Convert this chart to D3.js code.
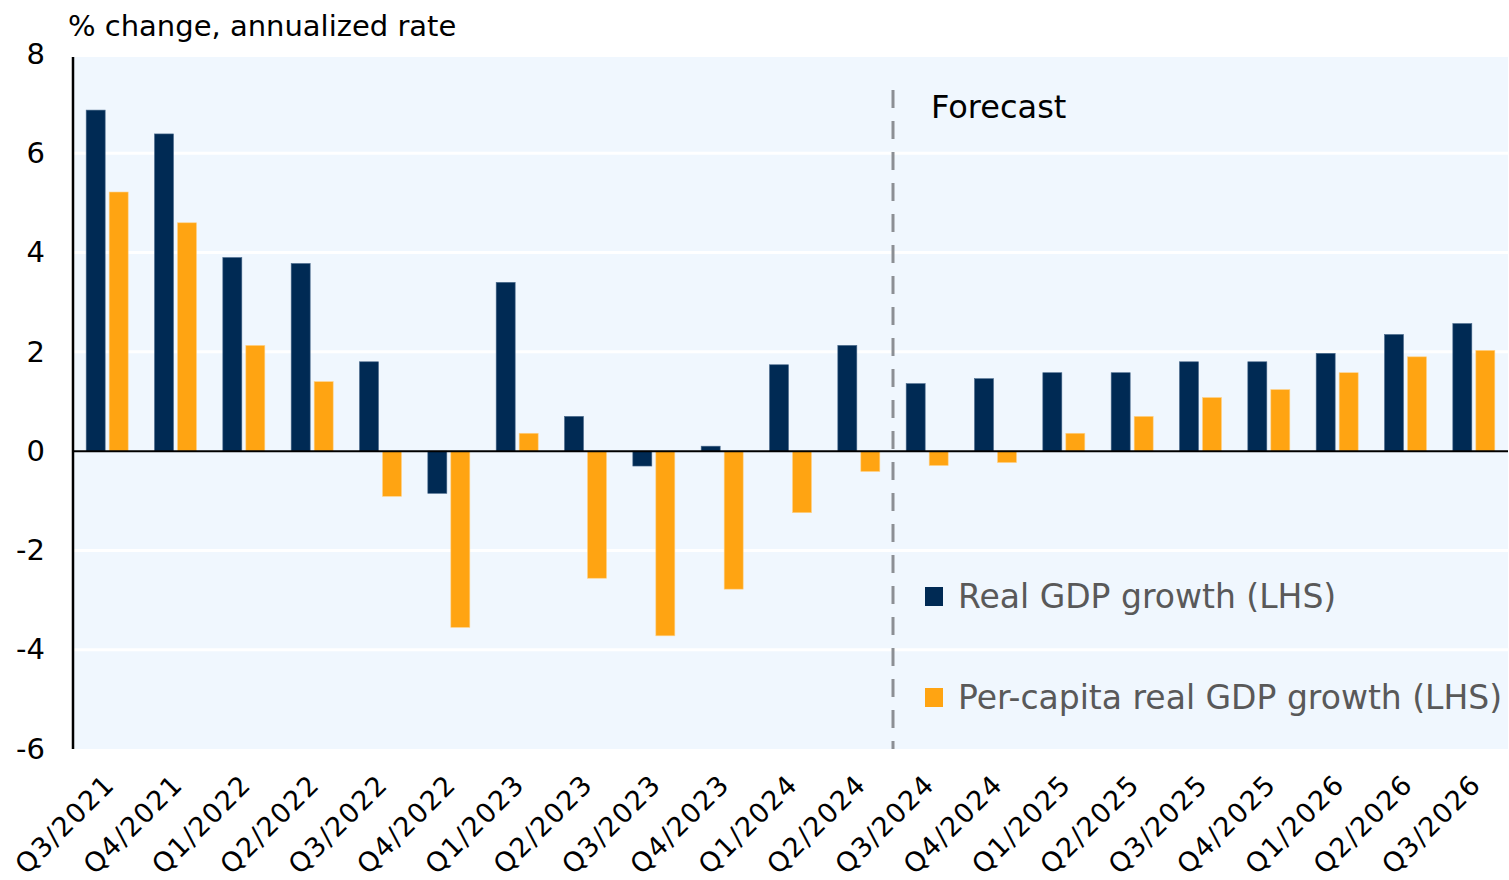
<!DOCTYPE html>
<html>
<head>
<meta charset="utf-8">
<script src="https://cdn.jsdelivr.net/npm/d3@7"></script>
<style>
  body { margin: 0; background: #fff; }
  text { font-family: "DejaVu Sans", sans-serif; }
</style>
</head>
<body>
<svg class="chart"></svg>
<script>
var w = 1509;
var h = 880;

// quarters on the x axis
var quarters = ["Q3/2021", "Q4/2021", "Q1/2022", "Q2/2022", "Q3/2022", "Q4/2022",
                "Q1/2023", "Q2/2023", "Q3/2023", "Q4/2023", "Q1/2024", "Q2/2024",
                "Q3/2024", "Q4/2024", "Q1/2025", "Q2/2025", "Q3/2025", "Q4/2025",
                "Q1/2026", "Q2/2026", "Q3/2026"];

var realGdp = [6.87, 6.39, 3.9, 3.78, 1.8, -0.85, 3.4, 0.7, -0.3, 0.1, 1.74, 2.13,
               1.36, 1.46, 1.58, 1.58, 1.8, 1.8, 1.97, 2.35, 2.57];
var perCapita = [5.22, 4.6, 2.13, 1.4, -0.91, -3.55, 0.36, -2.56, -3.72, -2.78, -1.24, -0.41,
                 -0.29, -0.23, 0.36, 0.7, 1.08, 1.24, 1.58, 1.9, 2.03];

var yTicks = [-6, -4, -2, 0, 2, 4, 6, 8];
var forecastStart = "Q3/2024";

var seriesNames = ["Real GDP growth (LHS)", "Per-capita real GDP growth (LHS)"];
var colors = ["#002A54", "#FFA412"];

var plotL = 73, plotR = 1508, plotT = 57, plotB = 749;

var svg = d3.select(".chart")
  .attr("width", w)
  .attr("height", h);

var x = d3.scaleBand()
  .domain(quarters)
  .range([plotL, plotR])
  .padding(0);

var y = d3.scaleLinear()
  .domain([-6, 8])
  .range([749, 54]);

// plot background
svg.append("rect")
  .attr("x", plotL)
  .attr("y", plotT)
  .attr("width", plotR - plotL)
  .attr("height", plotB - plotT)
  .attr("fill", "#F0F7FE");

// grid lines
svg.append("g")
  .selectAll("line")
  .data(yTicks.filter(function(d) { return d != 0 && d != 8 && d != -6; }))
  .enter()
  .append("line")
  .attr("x1", plotL)
  .attr("x2", plotR)
  .attr("y1", function(d) { return y(d); })
  .attr("y2", function(d) { return y(d); })
  .attr("stroke", "#fff")
  .attr("stroke-width", 3);

// bars
var barW = 19;
var bw = x.bandwidth();
var groups = [realGdp, perCapita];
var offsets = [bw / 2 - barW - 2, bw / 2 + 2];

groups.forEach(function(vals, k) {
  svg.append("g")
    .selectAll("rect")
    .data(vals)
    .enter()
    .append("rect")
    .attr("x", function(d, i) { return x(quarters[i]) + offsets[k]; })
    .attr("y", function(d) { return y(Math.max(0, d)); })
    .attr("width", barW)
    .attr("height", function(d) { return Math.abs(y(d) - y(0)); })
    .attr("fill", colors[k])
    .attr("stroke", k == 0 ? "#4a6a8c" : "#ffd28a")
    .attr("stroke-width", 0.6);
});

// zero line
svg.append("line")
  .attr("x1", plotL)
  .attr("x2", plotR)
  .attr("y1", y(0))
  .attr("y2", y(0))
  .attr("stroke", "#000")
  .attr("stroke-width", 2);

// forecast divider
var fx = x(forecastStart);
svg.append("line")
  .attr("x1", fx)
  .attr("x2", fx)
  .attr("y1", 90)
  .attr("y2", plotB)
  .attr("stroke", "#8C8F94")
  .attr("stroke-width", 3)
  .attr("stroke-dasharray", "18,13");

svg.append("text")
  .text("Forecast")
  .attr("x", fx + 38)
  .attr("y", 118)
  .attr("font-size", 32)
  .attr("fill", "#000");

// y axis
var yAxis = d3.axisLeft(y)
  .tickValues(yTicks)
  .tickSize(0)
  .tickPadding(28)
  .tickFormat(function(d) { return String(d); });

var ya = svg.append("g")
  .attr("transform", "translate(" + plotL + ",0)")
  .call(yAxis);
ya.select(".domain").remove();
ya.selectAll("text")
  .attr("font-size", 29)
  .attr("fill", "#000")
  .style("font-family", "'DejaVu Sans', sans-serif");

svg.append("line")
  .attr("x1", plotL)
  .attr("x2", plotL)
  .attr("y1", plotT)
  .attr("y2", plotB)
  .attr("stroke", "#000")
  .attr("stroke-width", 2.5);

// x axis labels
var xAxis = d3.axisBottom(x).tickSize(0).tickPadding(0);
var xa = svg.append("g")
  .attr("transform", "translate(0," + plotB + ")")
  .call(xAxis);
xa.select(".domain").remove();
xa.selectAll("text")
  .attr("font-size", 27)
  .attr("fill", "#000")
  .style("font-family", "'DejaVu Sans', sans-serif")
  .style("letter-spacing", "1.5px")
  .style("text-anchor", "end")
  .attr("dy", 0)
  .attr("transform", "translate(9,37) rotate(-45)");

// axis title
svg.append("text")
  .text("% change, annualized rate")
  .attr("x", 68)
  .attr("y", 36)
  .attr("font-size", 29)
  .attr("fill", "#000");

// legend
var legend = svg.append("g")
  .selectAll("g")
  .data(seriesNames)
  .enter()
  .append("g")
  .attr("transform", function(d, i) { return "translate(925," + (587 + i * 101) + ")"; });

legend.append("rect")
  .attr("width", 18)
  .attr("height", 19)
  .attr("fill", function(d, i) { return colors[i]; });

legend.append("text")
  .text(function(d) { return d; })
  .attr("x", 33)
  .attr("y", 21)
  .attr("font-size", 33)
  .attr("fill", "#595959");
</script>
</body>
</html>
